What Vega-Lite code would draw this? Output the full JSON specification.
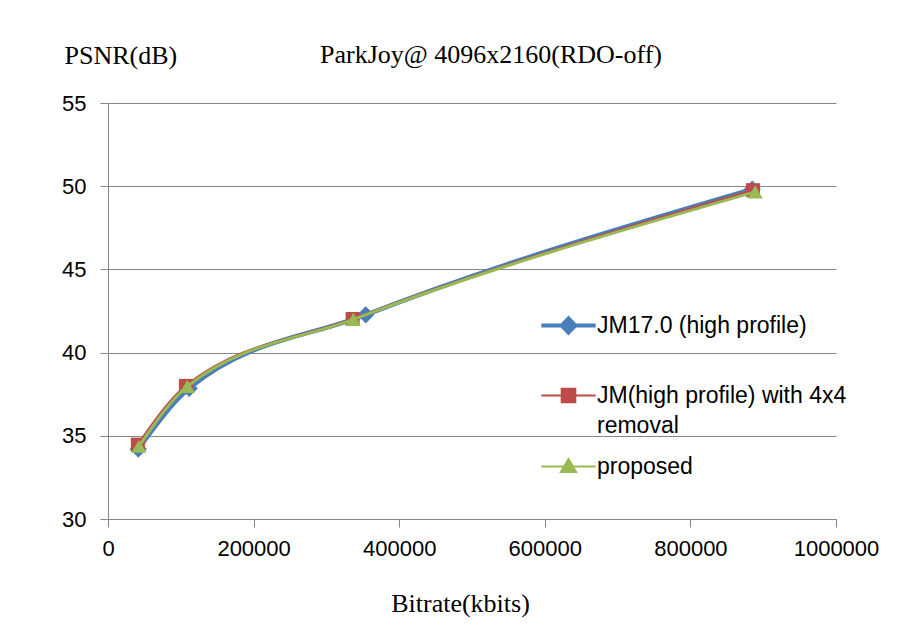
{
  "$schema": "https://vega.github.io/schema/vega-lite/v6.json",
  "width": 728,
  "height": 416,
  "autosize": {"type": "none"},
  "padding": {"left": 108, "top": 103, "right": 73, "bottom": 107},
  "background": "white",
  "title": {
    "text": "ParkJoy@ 4096x2160(RDO-off)",
    "font": "Liberation Serif",
    "fontSize": 26,
    "fontWeight": "normal",
    "color": "#000000",
    "anchor": "middle",
    "frame": "group",
    "baseline": "alphabetic",
    "offset": 0,
    "dx": 19,
    "dy": 47
  },
  "data": {
    "values": [
      {"series": "JM17.0 (high profile)", "bitrate": 41600, "psnr": 34.2},
      {"series": "JM17.0 (high profile)", "bitrate": 111500, "psnr": 37.85},
      {"series": "JM17.0 (high profile)", "bitrate": 354000, "psnr": 42.27},
      {"series": "JM17.0 (high profile)", "bitrate": 885000, "psnr": 49.82},
      {"series": "JM(high profile) with 4x4 removal", "bitrate": 41000, "psnr": 34.47},
      {"series": "JM(high profile) with 4x4 removal", "bitrate": 107000, "psnr": 38.0},
      {"series": "JM(high profile) with 4x4 removal", "bitrate": 336000, "psnr": 42.02},
      {"series": "JM(high profile) with 4x4 removal", "bitrate": 886000, "psnr": 49.76},
      {"series": "proposed", "bitrate": 42500, "psnr": 34.37},
      {"series": "proposed", "bitrate": 109000, "psnr": 37.97},
      {"series": "proposed", "bitrate": 337000, "psnr": 42.0},
      {"series": "proposed", "bitrate": 889000, "psnr": 49.66}
    ]
  },
  "encoding": {
    "x": {
      "field": "bitrate",
      "type": "quantitative",
      "scale": {"domain": [0, 1000000], "nice": false},
      "axis": {
        "values": [0, 200000, 400000, 600000, 800000, 1000000],
        "format": "d",
        "grid": false,
        "labelFlush": false,
        "labelOverlap": false,
        "title": "Bitrate(kbits)",
        "titleFont": "Liberation Serif",
        "titleFontSize": 26,
        "titleFontWeight": "normal",
        "titleColor": "#000000",
        "titleAnchor": null,
        "titleAlign": "center",
        "titleBaseline": "alphabetic",
        "titleX": 352,
        "titleY": 92,
        "labelPadding": 11,
        "tickSize": 8
      }
    },
    "y": {
      "field": "psnr",
      "type": "quantitative",
      "scale": {"domain": [30, 55], "nice": false, "zero": false},
      "axis": {
        "values": [30, 35, 40, 45, 50, 55],
        "grid": true,
        "gridColor": "#868686",
        "gridWidth": 1,
        "labelFlush": false,
        "title": "PSNR(dB)",
        "titleFont": "Liberation Serif",
        "titleFontSize": 26,
        "titleFontWeight": "normal",
        "titleColor": "#000000",
        "titleAngle": 0,
        "titleAnchor": null,
        "titleAlign": "left",
        "titleBaseline": "alphabetic",
        "titleX": -44,
        "titleY": -40,
        "labelPadding": 14,
        "tickSize": 8
      }
    },
    "color": {
      "field": "series",
      "type": "nominal",
      "sort": ["JM17.0 (high profile)", "JM(high profile) with 4x4 removal", "proposed"],
      "scale": {
        "domain": ["JM17.0 (high profile)", "JM(high profile) with 4x4 removal", "proposed"],
        "range": ["#4A7EBB", "#BE4B48", "#98B954"]
      },
      "legend": {
        "orient": "none",
        "legendX": 449,
        "legendY": 211,
        "title": null,
        "labelFont": "Liberation Sans",
        "labelFontSize": 23,
        "labelColor": "#000000",
        "labelLimit": 0,
        "labelOffset": 17,
        "symbolSize": 256,
        "rowPadding": 16,
        "labelExpr": "datum.label == 'JM(high profile) with 4x4 removal' ? ['JM(high profile) with 4x4', 'removal'] : [datum.label, ' ']",
        "encode": {
          "labels": {
            "update": {
              "lineHeight": {"value": 30}
            }
          },
          "symbols": {
            "update": {
              "shape": {"signal": "datum.value == 'JM17.0 (high profile)' ? 'M-3.4,0H3.4M0,-0.9L0.85,0L0,0.9L-0.85,0Z' : datum.value == 'proposed' ? 'M-3.4,0H3.4M0,-0.95L0.95,0.7H-0.95Z' : 'M-3.4,0H3.4M-0.85,-0.85H0.85V0.85H-0.85Z'"},
              "strokeWidth": {"signal": "datum.value == 'JM17.0 (high profile)' ? 4 : 2"},
              "fill": {"scale": "color", "field": "value"},
              "stroke": {"scale": "color", "field": "value"},
              "fillOpacity": {"value": 1},
              "strokeOpacity": {"value": 1},
              "opacity": {"value": 1}
            }
          }
        }
      }
    }
  },
  "layer": [
    {
      "transform": [{"filter": "datum.series == 'JM17.0 (high profile)'"}],
      "layer": [
        {"mark": {"type": "line", "interpolate": "monotone", "strokeWidth": 4.5}},
        {"mark": {"type": "point", "shape": "diamond", "filled": true, "size": 300, "opacity": 1}}
      ]
    },
    {
      "transform": [{"filter": "datum.series == 'JM(high profile) with 4x4 removal'"}],
      "layer": [
        {"mark": {"type": "line", "interpolate": "monotone", "strokeWidth": 2.5}},
        {"mark": {"type": "point", "shape": "square", "filled": true, "size": 196, "opacity": 1}}
      ]
    },
    {
      "transform": [{"filter": "datum.series == 'proposed'"}],
      "layer": [
        {"mark": {"type": "line", "interpolate": "monotone", "strokeWidth": 3}},
        {"mark": {"type": "point", "shape": "triangle-up", "filled": true, "size": 230, "opacity": 1}}
      ]
    }
  ],
  "config": {
    "view": {"stroke": null},
    "axis": {
      "domainColor": "#868686",
      "tickColor": "#868686",
      "labelFont": "Liberation Sans",
      "labelFontSize": 22,
      "labelColor": "#000000"
    }
  }
}
